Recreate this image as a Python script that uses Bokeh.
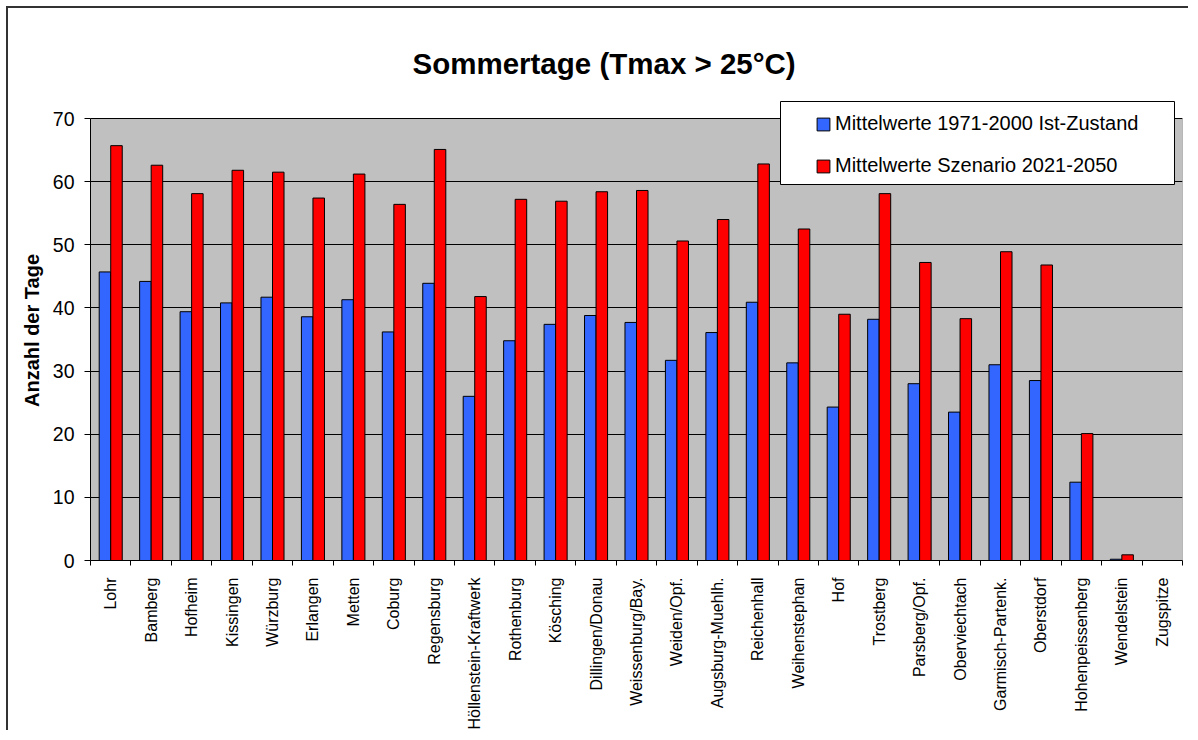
import math
from bokeh.plotting import figure
from bokeh.models import (Range1d, FixedTicker, Legend, LegendItem, BoxAnnotation,
                          ColumnDataSource)
from bokeh.transform import dodge
from bokeh.embed import file_html
from bokeh.resources import INLINE

stations = ["Lohr", "Bamberg", "Hofheim", "Kissingen", "Würzburg", "Erlangen", "Metten",
            "Coburg", "Regensburg", "Höllenstein-Kraftwerk", "Rothenburg", "Kösching",
            "Dillingen/Donau", "Weissenburg/Bay.", "Weiden/Opf.", "Augsburg-Muehlh.",
            "Reichenhall", "Weihenstephan", "Hof", "Trostberg", "Parsberg/Opf.",
            "Oberviechtach", "Garmisch-Partenk.", "Oberstdorf", "Hohenpeissenberg",
            "Wendelstein", "Zugspitze"]
ist_1971_2000 = [45.7, 44.2, 39.4, 40.8, 41.7, 38.6, 41.3, 36.2, 43.9, 26.0, 34.8, 37.4,
                 38.8, 37.7, 31.7, 36.1, 40.9, 31.3, 24.3, 38.2, 28.0, 23.5, 31.0, 28.5,
                 12.4, 0.2, 0.0]
szenario_2021_2050 = [65.7, 62.6, 58.1, 61.8, 61.5, 57.4, 61.2, 56.4, 65.1, 41.8, 57.2, 56.9,
                      58.4, 58.6, 50.6, 54.0, 62.8, 52.5, 39.0, 58.1, 47.2, 38.3, 48.9, 46.8,
                      20.1, 0.9, 0.0]
y_ticks = [0, 10, 20, 30, 40, 50, 60, 70]
title_text = "Sommertage (Tmax > 25°C)"
y_label = "Anzahl der Tage"
legend_labels = ["Mittelwerte 1971-2000 Ist-Zustand", "Mittelwerte Szenario 2021-2050"]

FONT = "Liberation Sans"
BLUE = "#3366FF"
RED = "#FF0000"
n = len(stations)
idx = list(range(n))
src = ColumnDataSource(dict(idx=idx, ist=ist_1971_2000, szen=szenario_2021_2050))

y_min, y_max = y_ticks[0], y_ticks[-1]
plot_h = 442                      # pixel height of the grey plot area
head_px = 18                      # white strip above the grey area (room for the legend)
y_top = y_max + head_px * (y_max - y_min) / plot_h

p = figure(width=1182, height=724, output_backend="svg", toolbar_location=None,
           x_range=Range1d(-0.5, n - 0.5), y_range=Range1d(y_min, y_top),
           min_border_left=82, min_border_right=8, min_border_top=92,
           min_border_bottom=172, title=title_text)

p.title.text_font = FONT
p.title.text_font_size = "29.5px"
p.title.text_font_style = "bold"
p.title.text_color = "black"
p.title.align = "left"
p.title.offset = 322
p.title.standoff = 41

p.background_fill_color = "white"
p.border_fill_color = "white"
p.outline_line_color = None

# grey plot area up to the top of the value axis
area = BoxAnnotation(top=y_max, fill_color="#C0C0C0", fill_alpha=1.0,
                     line_color="#808080", line_width=1, line_alpha=1.0, level="image")
p.add_layout(area)

bw = 0.285
r_ist = p.vbar(x=dodge("idx", -bw / 2, range=p.x_range), top="ist", width=bw, source=src,
               fill_color=BLUE, line_color="black", line_width=1)
r_szen = p.vbar(x=dodge("idx", bw / 2, range=p.x_range), top="szen", width=bw, source=src,
                fill_color=RED, line_color="black", line_width=1)

# x axis
xa = p.xaxis[0]
xa.ticker = FixedTicker(ticks=idx, minor_ticks=[i - 0.5 for i in range(n + 1)])
xa.major_label_overrides = {i: s for i, s in enumerate(stations)}
xa.major_label_orientation = math.pi / 2
xa.major_label_text_font = FONT
xa.major_label_text_font_size = "16px"
xa.major_label_text_color = "black"
xa.major_tick_out = 0
xa.major_tick_in = 0
xa.minor_tick_out = 5
xa.minor_tick_in = 0
xa.minor_tick_line_color = "black"
xa.major_label_standoff = 12
xa.axis_line_color = "black"

# y axis
ya = p.yaxis[0]
ya.ticker = FixedTicker(ticks=y_ticks)
ya.bounds = (y_min, y_max)
ya.major_label_text_font = FONT
ya.major_label_text_font_size = "19.5px"
ya.major_label_text_color = "black"
ya.major_tick_out = 6
ya.major_tick_in = 0
ya.minor_tick_line_color = None
ya.major_tick_line_color = "black"
ya.major_label_standoff = 10
ya.axis_line_color = "black"
ya.axis_label = y_label
ya.axis_label_text_font = FONT
ya.axis_label_text_font_size = "20px"
ya.axis_label_text_font_style = "bold"
ya.axis_label_text_color = "black"
ya.axis_label_standoff = 7

p.xgrid.grid_line_color = None
p.ygrid.grid_line_color = "black"
p.ygrid.grid_line_width = 1
p.ygrid.ticker = FixedTicker(ticks=y_ticks)

# legend box (frame-relative screen units)
box = BoxAnnotation(left=690, right=1084, bottom=376, top=459,
                    left_units="screen", right_units="screen",
                    bottom_units="screen", top_units="screen",
                    fill_color="white", fill_alpha=1.0, line_color="black",
                    line_width=1, line_alpha=1.0)
p.add_layout(box)

legend = Legend(items=[LegendItem(label=legend_labels[0], renderers=[r_ist]),
                       LegendItem(label=legend_labels[1], renderers=[r_szen])],
                location=(725, 383), padding=10, spacing=19, glyph_width=16,
                glyph_height=16, label_standoff=4, label_height=22,
                label_text_font=FONT, label_text_font_size="20px",
                label_text_color="black", border_line_color=None,
                background_fill_alpha=0)
p.add_layout(legend, "center")

p.styles = {"margin-left": "6px", "margin-top": "6px",
            "border-left": "2px solid #333", "border-top": "2px solid #333"}

open("out.html", "w").write(file_html(p, INLINE))
